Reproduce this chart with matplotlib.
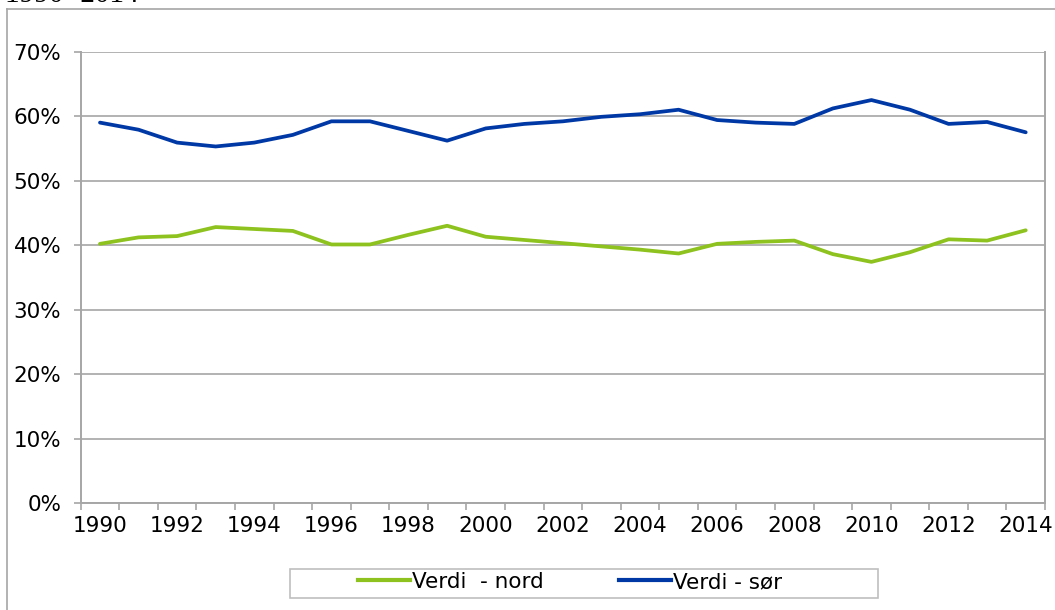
import matplotlib
matplotlib.use('Agg')
import matplotlib.pyplot as plt
from matplotlib.lines import Line2D
from matplotlib.patches import Rectangle
import numpy as np

years = list(range(1990, 2015))
nord = [40.2, 41.2, 41.4, 42.8, 42.5, 42.2, 40.1, 40.1, 41.6, 43.0, 41.3, 40.8, 40.3,
        39.8, 39.3, 38.7, 40.2, 40.5, 40.7, 38.6, 37.4, 38.9, 40.9, 40.7, 42.3]
sor = [59.0, 57.9, 55.9, 55.3, 55.9, 57.1, 59.2, 59.2, 57.7, 56.2, 58.1, 58.8, 59.2,
       59.9, 60.3, 61.0, 59.4, 59.0, 58.8, 61.2, 62.5, 61.0, 58.8, 59.1, 57.5]
labels = ['Verdi  - nord', 'Verdi - sør']
title = '1990- 2014'

GREEN = '#8DC21F'
BLUE = '#0039A6'
GRID = '#A6A6A6'
FONT = ['Verdana', 'DejaVu Sans']
FS = 15.5

W, H = 1055, 610
fig = plt.figure(figsize=(W / 100, H / 100), dpi=100)
ax = fig.add_axes([80.7 / W, 1 - 503 / H, (1045 - 80.7) / W, (503 - 51.7) / H])

x = np.arange(len(years))
ax.plot(x, nord, color=GREEN, lw=2.7, solid_capstyle='round', solid_joinstyle='round', zorder=3)
ax.plot(x, sor, color=BLUE, lw=2.7, solid_capstyle='round', solid_joinstyle='round', zorder=3)

ax.set_xlim(-0.5, len(years) - 0.5)
ax.set_ylim(0, 70)
ax.set_yticks(np.arange(0, 71, 10))
ax.set_yticklabels([f'{v}%' for v in range(0, 71, 10)], family=FONT, fontsize=FS)
ax.yaxis.grid(True, color=GRID, lw=1.2)
ax.set_axisbelow(True)

# category boundaries get tick marks, every other category gets a label
ax.set_xticks(np.arange(-0.5, len(years), 1.0))
ax.set_xticklabels([])
ax.set_xticks(x[::2], minor=True)
ax.set_xticklabels([str(y) for y in years[::2]], minor=True, family=FONT, fontsize=FS)
ax.tick_params(axis='x', which='major', length=5, width=1.2, color=GRID)
ax.tick_params(axis='x', which='minor', length=0, pad=9)
ax.tick_params(axis='y', length=5, width=1.2, color=GRID, pad=9)

for side in ['left', 'bottom', 'right']:
    ax.spines[side].set_color(GRID)
    ax.spines[side].set_linewidth(1.4)
ax.spines['top'].set_visible(False)

# outer frame (only top and left visible in the crop)
fig.add_artist(Line2D([6.7 / W, 1.0], [1 - 9.3 / H] * 2, color=GRID, lw=1.2))
fig.add_artist(Line2D([6.7 / W] * 2, [0.0, 1 - 9.3 / H], color=GRID, lw=1.2))

# cut-off heading above the frame
fig.text(5 / W, 1 - 2.5 / H, title, family=['Liberation Serif'], fontsize=21, va='baseline')

# legend
fig.add_artist(Rectangle((290 / W, 1 - 598 / H), (878 - 290) / W, 29 / H,
                         transform=fig.transFigure, fill=False, ec='#BFBFBF', lw=1.2))
handles = [Line2D([], [], color=GREEN, lw=3), Line2D([], [], color=BLUE, lw=3)]
fig.legend(handles, labels, loc='center', ncol=2, frameon=False,
           bbox_to_anchor=(570 / W, 1 - 582 / H), prop={'family': FONT, 'size': FS},
           handlelength=2.4, handletextpad=0.1, columnspacing=3.5)

fig.savefig('out.png', dpi=100)
